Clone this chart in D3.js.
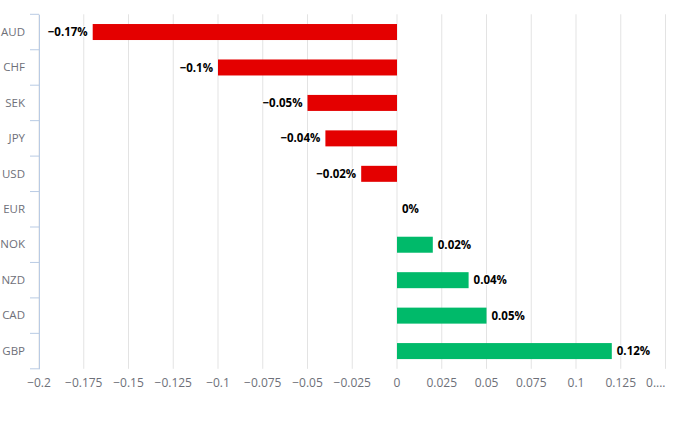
<!DOCTYPE html>
<html>
<head>
<meta charset="UTF-8">
<title>Currency change</title>
<script src="https://d3js.org/d3.v7.min.js"></script>
<style>
  body { margin: 0; background: #fff; }
  text { font-family: "Open Sans", "Noto Sans", sans-serif; }
</style>
</head>
<body>
<svg id="chart"></svg>
<script>
// data
var currencies = ["AUD", "CHF", "SEK", "JPY", "USD", "EUR", "NOK", "NZD", "CAD", "GBP"];
var changes = [-0.17, -0.1, -0.05, -0.04, -0.02, 0, 0.02, 0.04, 0.05, 0.12];
var xTicks = [-0.2, -0.175, -0.15, -0.125, -0.1, -0.075, -0.05, -0.025, 0, 0.025, 0.05, 0.075, 0.1, 0.125, 0.15];
var xTickLabels = ["\u22120.2", "\u22120.175", "\u22120.15", "\u22120.125", "\u22120.1", "\u22120.075", "\u22120.05", "\u22120.025",
                   "0", "0.025", "0.05", "0.075", "0.1", "0.125", "0...."];

(function() {
    var width = 684, height = 427;
    // plot area edges
    var gLeft = 39, gRight = 665.5, gTop = 14.3, gBottom = 368.8;

    var svg = d3.select("#chart").attr("width", width).attr("height", height);

    var x = d3.scaleLinear().domain([-0.2, 0.15]).range([gLeft, gRight]);
    var y = d3.scaleBand().domain(currencies).range([gTop, gBottom]);

    // vertical grid lines
    svg.append("g").selectAll("line")
        .data(xTicks)
        .enter().append("line")
        .attr("x1", function(d) { return x(d); })
        .attr("x2", function(d) { return x(d); })
        .attr("y1", gTop)
        .attr("y2", gBottom)
        .attr("stroke", "#e3e3e3")
        .attr("stroke-width", 1);

    // x tick labels (last one is cut short, so it hangs left of its tick)
    var last = xTicks.length - 1;
    svg.append("g").selectAll("text")
        .data(xTicks)
        .enter().append("text")
        .attr("x", function(d) { return x(d); })
        .attr("y", 383)
        .attr("dy", "0.35em")
        .attr("text-anchor", function(d, i) { return i === last ? "end" : "middle"; })
        .attr("font-size", 12)
        .attr("fill", "#6e7079")
        .text(function(d, i) { return xTickLabels[i]; });

    // y axis
    var yAxis = d3.axisLeft(y).tickSize(0).tickPadding(14);
    var gy = svg.append("g").attr("transform", "translate(" + gLeft + ",0)").call(yAxis);
    gy.select(".domain").attr("stroke", "#b9cbe4");
    gy.selectAll("text").attr("font-size", 11.5).attr("fill", "#6e7079")
        .attr("font-family", '"Open Sans", "Noto Sans", sans-serif');

    // ticks on the category boundaries
    var bounds = currencies.map(function(c) { return y(c); }).concat([gBottom]);
    svg.append("g").selectAll("line")
        .data(bounds)
        .enter().append("line")
        .attr("x1", gLeft - 9)
        .attr("x2", gLeft)
        .attr("y1", function(d) { return d; })
        .attr("y2", function(d) { return d; })
        .attr("stroke", "#b9cbe4");

    // bars
    var barH = 16;
    svg.append("g").selectAll("rect")
        .data(changes)
        .enter().append("rect")
        .attr("x", function(d) { return x(Math.min(0, d)); })
        .attr("width", function(d) { return Math.abs(x(d) - x(0)); })
        .attr("y", function(d, i) { return y(currencies[i]) + (y.bandwidth() - barH) / 2; })
        .attr("height", barH)
        .attr("fill", function(d) { return d < 0 ? "#e40000" : "#00ba6a"; });

    // value labels
    var fmt = function(d) { return (d < 0 ? "\u2212" : "") + Math.abs(d) + "%"; };
    svg.append("g").selectAll("text")
        .data(changes)
        .enter().append("text")
        .attr("x", function(d) { return d < 0 ? x(d) - 5 : x(d) + 5; })
        .attr("y", function(d, i) { return y(currencies[i]) + y.bandwidth() / 2; })
        .attr("dy", "0.35em")
        .attr("text-anchor", function(d) { return d < 0 ? "end" : "start"; })
        .attr("font-size", 11.5)
        .attr("font-weight", "bold")
        .attr("fill", "#000")
        .attr("stroke", "#fff")
        .attr("stroke-width", 2)
        .attr("paint-order", "stroke")
        .text(fmt);
})();
</script>
</body>
</html>
